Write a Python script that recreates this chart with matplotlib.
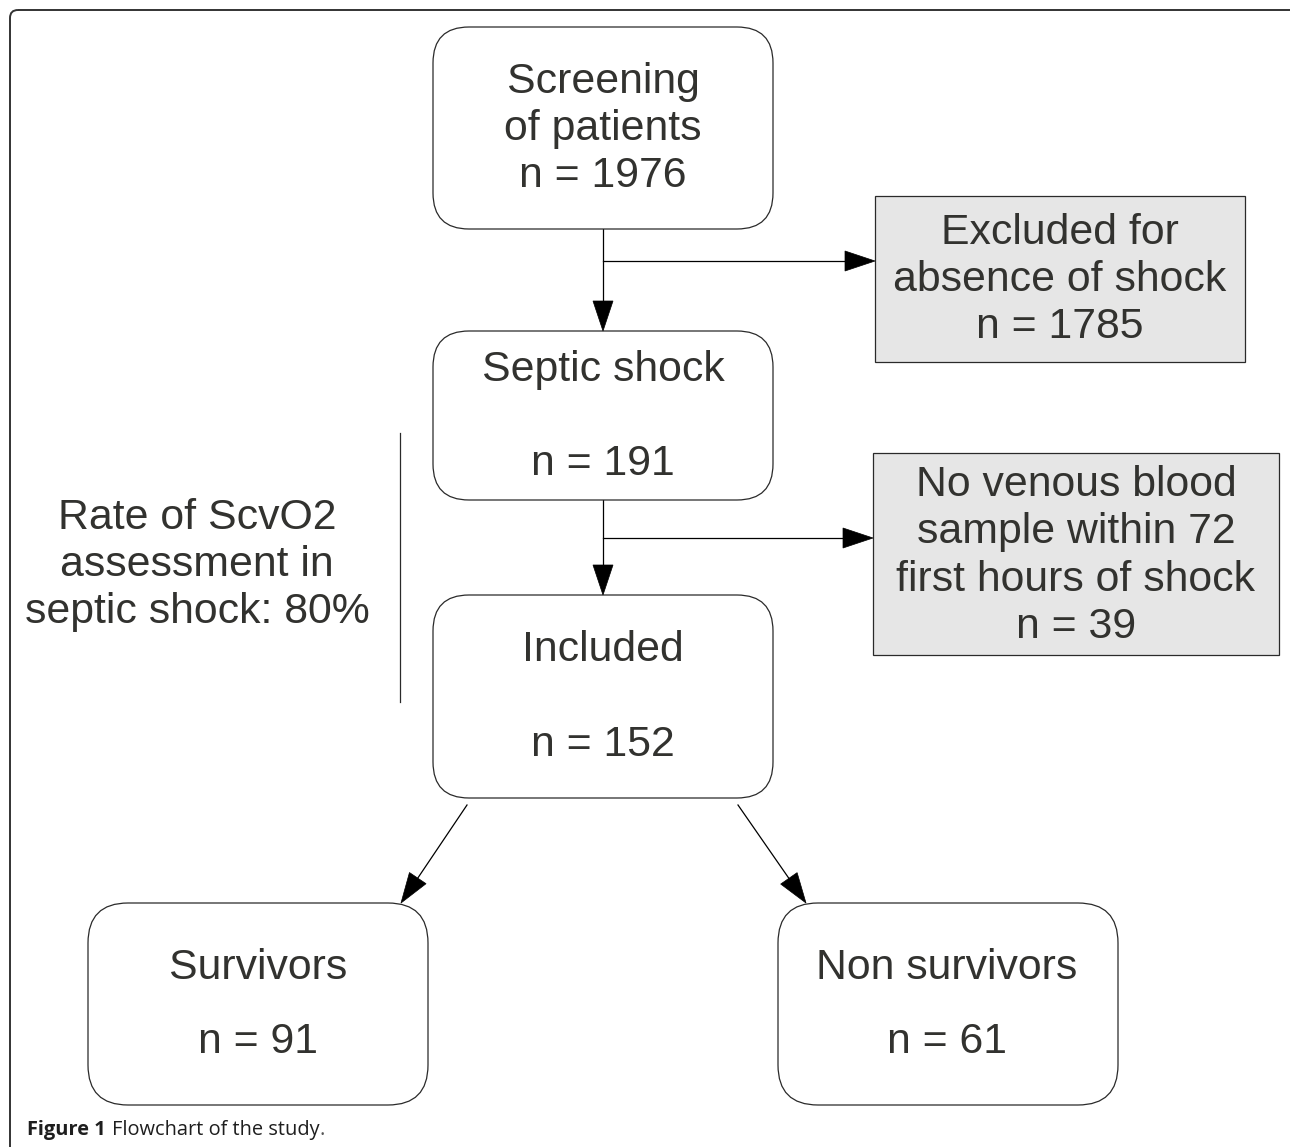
"""
Flowchart of the study (septic shock, ScvO2 assessment)
"""

import matplotlib.pyplot as plt
from matplotlib.patches import FancyBboxPatch, Rectangle, Polygon

# Flow counts
n_screened = 1976
n_excluded_no_shock = 1785
n_septic = 191
n_no_sample = 39
n_included = 152
n_survivors = 91
n_non_survivors = 61
rate_scvo2 = 80

TEXT = "#32322f"
EDGE = "#2a2a2a"
FONT = "Liberation Sans"
FS = 30.8

fig = plt.figure(figsize=(12.9, 11.47), dpi=100)
ax = fig.add_axes([0, 0, 1, 1])
ax.set_xlim(0, 1290)
ax.set_ylim(1147, 0)
ax.axis("off")


def rbox(x0, y0, x1, y1, r=36, fill="white"):
    ax.add_patch(FancyBboxPatch((x0, y0), x1 - x0, y1 - y0,
                                boxstyle=f"round,pad=0,rounding_size={r}",
                                fc=fill, ec=EDGE, lw=0.9, zorder=2))


def sbox(x0, y0, x1, y1, fill="#e6e6e6"):
    ax.add_patch(Rectangle((x0, y0), x1 - x0, y1 - y0,
                           fc=fill, ec=EDGE, lw=0.9, zorder=2))


def label(x, y, s):
    ax.text(x, y, s, ha="center", va="center", fontsize=FS, family=FONT,
            color=TEXT, linespacing=1.24, zorder=3)


def arrow(x0, y0, x1, y1, head_len=30, head_w=10):
    dx, dy = x1 - x0, y1 - y0
    length = (dx ** 2 + dy ** 2) ** 0.5
    ux, uy = dx / length, dy / length
    bx, by = x1 - ux * head_len, y1 - uy * head_len
    ax.plot([x0, bx], [y0, by], color="black", lw=0.9, zorder=1)
    ax.add_patch(Polygon([(x1, y1), (bx - uy * head_w, by + ux * head_w),
                          (bx + uy * head_w, by - ux * head_w)],
                         closed=True, fc="black", ec="black", lw=0.5, zorder=4))


# outer frame (only top and left edges fall inside the picture)
ax.add_patch(FancyBboxPatch((10, 10), 1320, 1160,
                            boxstyle="round,pad=0,rounding_size=8",
                            fc="none", ec="#333333", lw=1.4, zorder=0,
                            clip_on=True))

# main column
rbox(433, 27, 773, 229)
label(603, 129, f"Screening\nof patients\nn = {n_screened}")

rbox(433, 331, 773, 500)
label(603, 370, "Septic shock")
label(603, 464, f"n = {n_septic}")

rbox(433, 595, 773, 798)
label(603, 650, "Included")
label(603, 745, f"n = {n_included}")

# exclusions
sbox(875, 196, 1245, 362)
label(1060, 280, f"Excluded for\nabsence of shock\nn = {n_excluded_no_shock}")

sbox(873, 453, 1279, 655)
label(1076, 556, f"No venous blood\nsample within 72\nfirst hours of shock\nn = {n_no_sample}")

# outcome boxes
rbox(88, 903, 428, 1105, r=40)
label(258, 968, "Survivors")
label(258, 1042, f"n = {n_survivors}")

rbox(778, 903, 1118, 1105, r=40)
label(947, 968, "Non survivors")
label(947, 1042, f"n = {n_non_survivors}")

# connectors
arrow(603, 229, 603, 331)
arrow(603, 261, 875, 261)
arrow(603, 500, 603, 595)
arrow(603, 538, 873, 538)
arrow(467, 805, 401, 903)
arrow(738, 805, 806, 903)

# side note
ax.plot([400, 400], [433, 702], color=EDGE, lw=0.9)
label(197, 565, f"Rate of ScvO2\nassessment in\nseptic shock: {rate_scvo2}%")

# caption
CAP = 14.4
t1 = ax.text(27, 1130, "Figure 1", ha="left", va="center", fontsize=CAP,
             family="Open Sans", fontweight="bold", color="#1e1e1e")
fig.canvas.draw()
bb = t1.get_window_extent()
x_end = ax.transData.inverted().transform((bb.x1, bb.y0))[0]
t2 = ax.text(x_end + 6, 1130, "Flowchart of the study", ha="left", va="center",
             fontsize=CAP, family="Open Sans", color="#1e1e1e")
fig.canvas.draw()
bb2 = t2.get_window_extent()
x_end2 = ax.transData.inverted().transform((bb2.x1, bb2.y0))[0]
ax.text(x_end2, 1130, ".", ha="left", va="center", fontsize=CAP,
        family="Open Sans", color="#555555")

fig.savefig("out.png", dpi=100, facecolor="white")
